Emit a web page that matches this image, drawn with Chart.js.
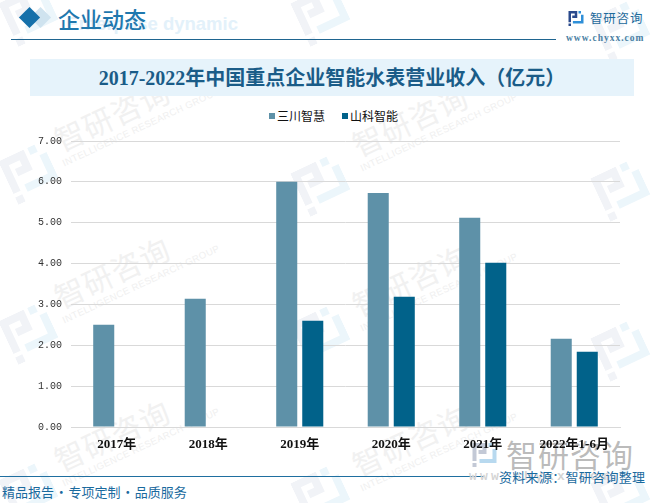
<!DOCTYPE html>
<html>
<head>
<meta charset="utf-8">
<script src="https://cdn.jsdelivr.net/npm/chart.js@4/dist/chart.umd.js"></script>
<style>
html, body { margin: 0; padding: 0; background: #fff; }
#page { position: relative; width: 652px; height: 503px; overflow: hidden; font-family: "Noto Sans CJK SC", sans-serif; }
#page div { position: absolute; white-space: nowrap; }
#page svg { position: absolute; }
canvas { position: absolute; left: 0; top: 0; }
.wm { font-size: 30px; line-height: 36px; letter-spacing: 1px; color: #f1f1f1; text-align: center; width: 130px; transform: rotate(-25deg); }
.wm span { display: block; font: 9.5px/11px "Liberation Sans"; letter-spacing: .4px; color: #f0f0f0; }
.lg { display: flex; align-items: center; font-size: 12px; line-height: 16px; color: #111; }
.lg i { display: inline-block; width: 6px; height: 6px; margin-right: 2px; }
</style>
</head>
<body>
<div id="page">
  <svg width="0" height="0" style="left:0;top:0">
    <symbol id="logoDark" viewBox="0 0 24 24"><path d="M0 0H14V11H6V7H10V4H4V18H0ZM0 20H4V24H0Z"/></symbol>
    <symbol id="logoLight" viewBox="0 0 24 24"><path d="M16 0H20V4H16ZM20 6H24V20H7V16H20Z"/></symbol>
  </svg>
  <div id="marks" style="left:0;top:0;width:652px;height:503px"></div>

  <div style="left:30px;top:59px;width:604px;height:37px;background:#e6f3fb"></div>
  <div style="left:11px;top:39px;width:545px;height:1px;background:#1f6590"></div>
  <div style="left:0;top:476px;width:484px;height:1px;background:#1f6fa0"></div>
  <div style="left:33px;top:10px;width:15px;height:15px;background:#cfe3ef;transform:rotate(45deg)"></div>
  <div style="left:22px;top:10px;width:15px;height:15px;background:#1570aa;transform:rotate(45deg)"></div>
  <div style="right:414px;top:13px;font:bold 18.5px/22px 'Liberation Sans';color:#e3f1fa">Enterprise dynamic</div>
  <div style="left:58px;top:3px;font-size:22px;line-height:30px;font-weight:500;color:#1f78ae">企业动态</div>
  <div style="left:30px;top:60px;width:604px;text-align:center;font:bold 20px/37px 'Liberation Serif','Noto Sans CJK SC';color:#1a5c88">2017-2022年中国重点企业智能水表营业收入（亿元）</div>

  <svg style="left:568px;top:11px;fill:#2a4a8c" width="16" height="15"><use href="#logoDark"/></svg>
  <svg style="left:568px;top:11px;fill:#2f8fd8" width="16" height="15"><use href="#logoLight"/></svg>
  <div style="left:590px;top:9px;font-size:12.5px;line-height:17px;letter-spacing:.8px;color:#1d6a9b">智研咨询</div>
  <div style="left:566px;top:32px;font:bold 9.5px/12px 'Liberation Serif';letter-spacing:1px;color:#4b7fa3">www.chyxx.com</div>

  <svg style="left:470px;top:443px;fill:#c3c9d6" width="29" height="24"><use href="#logoDark"/></svg>
  <svg style="left:470px;top:443px;fill:#b8d9ef" width="29" height="24"><use href="#logoLight"/></svg>
  <div style="left:506px;top:434px;font-size:31px;line-height:40px;letter-spacing:1px;color:rgba(120,120,120,.5)">智研咨询</div>
  <div style="left:469px;top:469px;font:bold 13px/16px 'Liberation Mono';letter-spacing:3.2px;color:#d4d4d4">www.chyxx.com</div>

  <div style="left:2px;top:483px;font-size:13px;line-height:18px;word-spacing:-2.2px;color:#1a6a9e">精品报告 · 专项定制 · 品质服务</div>
  <div style="left:499px;top:468px;font-size:13px;line-height:18px;letter-spacing:.3px;color:#1a6a9e">资料来源：智研咨询整理</div>

  <div id="legend" style="left:269px;top:108px;width:140px;height:16px"></div>
  <canvas id="myChart" width="652" height="503"></canvas>
</div>
<script>
const categories = ['2017年', '2018年', '2019年', '2020年', '2021年', '2022年1-6月'];
const sanchuan = [2.5, 3.14, 6.0, 5.73, 5.12, 2.16];
const shanke = [null, null, 2.6, 3.19, 4.02, 1.84];
const yTicks = ['0.00', '1.00', '2.00', '3.00', '4.00', '5.00', '6.00', '7.00'];

// watermarks behind the chart
const textMarks = [[114, 120], [114, 277], [114, 440], [412, 125], [412, 285], [412, 445]];
const logoMarks = [[30, 15], [30, 173], [30, 333], [30, 492], [322, 15], [322, 185], [322, 335], [322, 495], [622, 30], [622, 190], [622, 350], [622, 495]];
const marks = document.getElementById('marks');
textMarks.forEach(([x, y]) => {
    marks.insertAdjacentHTML('beforeend',
        `<div class="wm" style="left:${x - 65}px;top:${y - 24}px">智研咨询<span>INTELLIGENCE RESEARCH GROUP</span></div>`);
});
logoMarks.forEach(([x, y]) => {
    const pos = `left:${x - 24}px;top:${y - 24}px;transform:rotate(-25deg)`;
    marks.insertAdjacentHTML('beforeend',
        `<svg style="${pos};fill:#f1f3f7" width="48" height="48"><use href="#logoDark"/></svg>` +
        `<svg style="${pos};fill:#ecf6fb" width="48" height="48"><use href="#logoLight"/></svg>`);
});

const data = {
    labels: categories,
    datasets: [{
        label: '三川智慧',
        backgroundColor: '#5e91a8',
        data: sanchuan,
        categoryPercentage: 0.569,
        barPercentage: 0.808
    }, {
        label: '山科智能',
        backgroundColor: '#01628a',
        data: shanke,
        categoryPercentage: 0.569,
        barPercentage: 0.808
    }]
};

// legend as html, chart.js puts the text too far from the box
const legend = document.getElementById('legend');
data.datasets.forEach((ds, i) => {
    legend.insertAdjacentHTML('beforeend',
        `<div class="lg" style="left:${i * 73}px;top:0"><i style="background:${ds.backgroundColor}"></i>${ds.label}</div>`);
});

const config = {
    type: 'bar',
    data,
    options: {
        responsive: false,
        animation: false,
        layout: { padding: { left: 37, right: 32, top: 141, bottom: 38 } },
        plugins: {
            tooltip: { enabled: false },
            legend: { display: false }
        },
        scales: {
            x: {
                grid: { display: false },
                border: { color: '#d9d9d9' },
                afterFit: (scale) => { scale.height = 38; },
                ticks: {
                    color: '#111',
                    maxRotation: 0,
                    autoSkip: false,
                    padding: 2,
                    font: { family: '"Liberation Serif", "Noto Sans CJK SC"', size: 13, weight: 'bold' }
                }
            },
            y: {
                min: 0,
                max: 7,
                afterFit: (scale) => { scale.width = 34; },
                grid: { color: '#d9d9d9', drawTicks: false },
                border: { display: false },
                ticks: {
                    stepSize: 1,
                    padding: 9,
                    color: '#333',
                    callback: (v, i) => yTicks[i],
                    font: { family: '"Liberation Mono"', size: 10 }
                }
            }
        }
    }
};

new Chart(document.getElementById('myChart'), config);
</script>
</body>
</html>
